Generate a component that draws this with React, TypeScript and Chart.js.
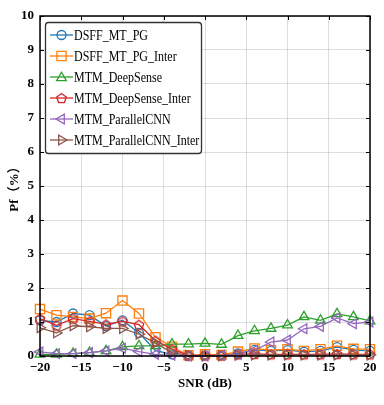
import React, { useEffect, useRef } from 'react';
import { Chart, registerables } from 'chart.js';

Chart.register(...registerables);

// ---- data ----
const snr = [-20, -18, -16, -14, -12, -10, -8, -6, -4, -2, 0, 2, 4, 6, 8, 10, 12, 14, 16, 18, 20];
const seriesNames = [
  'DSFF_MT_PG',
  'DSFF_MT_PG_Inter',
  'MTM_DeepSense',
  'MTM_DeepSense_Inter',
  'MTM_ParallelCNN',
  'MTM_ParallelCNN_Inter',
];
const dsffMtPg = [1.05, 1.0, 1.25, 1.2, 0.88, 1.05, 0.68, 0.16, 0.05, 0.0, 0.02, 0.02, 0.08, 0.18, 0.15, 0.17, 0.12, 0.15, 0.26, 0.18, 0.15];
const dsffMtPgInter = [1.38, 1.2, 1.15, 1.1, 1.26, 1.63, 1.25, 0.55, 0.27, 0.02, 0.05, 0.03, 0.13, 0.22, 0.17, 0.2, 0.15, 0.2, 0.3, 0.21, 0.2];
const mtmDeepSense = [0.05, 0.05, 0.07, 0.1, 0.15, 0.27, 0.3, 0.3, 0.35, 0.35, 0.37, 0.34, 0.6, 0.74, 0.81, 0.91, 1.15, 1.05, 1.24, 1.15, 1.03];
const mtmDeepSenseInter = [1.1, 0.9, 1.1, 1.02, 0.93, 1.02, 0.92, 0.45, 0.2, 0.02, 0.02, 0.02, 0.05, 0.06, 0.05, 0.05, 0.05, 0.05, 0.06, 0.05, 0.05];
const mtmParallelCnn = [0.12, 0.07, 0.07, 0.1, 0.15, 0.23, 0.13, 0.05, 0.02, 0.0, 0.0, 0.02, 0.05, 0.17, 0.41, 0.47, 0.8, 0.87, 1.12, 0.95, 1.0];
const mtmParallelCnnInter = [0.83, 0.68, 0.89, 0.86, 0.81, 0.81, 0.64, 0.38, 0.1, 0.02, 0.0, 0.01, 0.02, 0.03, 0.03, 0.03, 0.03, 0.03, 0.03, 0.03, 0.03];
const seriesValues = [dsffMtPg, dsffMtPgInter, mtmDeepSense, mtmDeepSenseInter, mtmParallelCnn, mtmParallelCnnInter];
const colors = ['#1f77b4', '#ff7f0e', '#2ca02c', '#d62728', '#9467bd', '#8c564b'];
const markerKinds = ['circle', 'square', 'triUp', 'pentagon', 'triLeft', 'triRight'];
const xLabel = 'SNR (dB)';
const yLabel = 'Pf（%）';

const SERIF = "'Liberation Serif', 'Times New Roman', 'Noto Sans CJK SC', serif";

function pentagonPath(ctx: CanvasRenderingContext2D, x: number, y: number, r: number) {
  ctx.beginPath();
  for (let i = 0; i < 5; i++) {
    const a = -Math.PI / 2 + (i * 2 * Math.PI) / 5;
    const px = x + Math.cos(a) * r;
    const py = y + Math.sin(a) * r;
    if (i === 0) ctx.moveTo(px, py);
    else ctx.lineTo(px, py);
  }
  ctx.closePath();
}

function makePentagon(color: string, r: number) {
  const size = Math.ceil(r * 2 + 4);
  const c = document.createElement('canvas');
  c.width = size;
  c.height = size;
  const ctx = c.getContext('2d')!;
  ctx.strokeStyle = color;
  ctx.lineWidth = 1.3;
  pentagonPath(ctx, size / 2, size / 2 + 0.5, r);
  ctx.stroke();
  return c;
}

function triPath(ctx: CanvasRenderingContext2D, x: number, y: number, r: number, apexDeg: number) {
  ctx.beginPath();
  for (let i = 0; i < 3; i++) {
    const a = (apexDeg * Math.PI) / 180 + (i * 2 * Math.PI) / 3;
    const px = x + Math.cos(a) * r;
    const py = y + Math.sin(a) * r;
    if (i === 0) ctx.moveTo(px, py);
    else ctx.lineTo(px, py);
  }
  ctx.closePath();
}

function drawMarker(ctx: CanvasRenderingContext2D, kind: string, x: number, y: number, color: string) {
  ctx.save();
  ctx.strokeStyle = color;
  ctx.lineWidth = 1.3;
  switch (kind) {
    case 'circle':
      ctx.beginPath();
      ctx.arc(x, y, 4.5, 0, Math.PI * 2);
      break;
    case 'square':
      ctx.beginPath();
      ctx.rect(x - 4.6, y - 4.6, 9.2, 9.2);
      break;
    case 'triUp':
      triPath(ctx, x, y + 0.8, 5.6, -90);
      break;
    case 'triLeft':
      triPath(ctx, x, y, 5.6, 180);
      break;
    case 'triRight':
      triPath(ctx, x, y, 5.6, 0);
      break;
    case 'pentagon':
      pentagonPath(ctx, x, y + 0.5, 5);
      break;
  }
  ctx.stroke();
  ctx.restore();
}

const framePlugin = {
  id: 'matlabFrame',
  afterDatasetsDraw(chart: any) {
    const { ctx, chartArea: a, scales } = chart;
    ctx.save();
    // inward ticks
    ctx.strokeStyle = '#000';
    ctx.lineWidth = 1;
    const tl = 4;
    for (const t of scales.x.ticks) {
      const px = Math.round(scales.x.getPixelForValue(t.value)) + 0.5;
      ctx.beginPath();
      ctx.moveTo(px, a.bottom);
      ctx.lineTo(px, a.bottom - tl);
      ctx.moveTo(px, a.top);
      ctx.lineTo(px, a.top + tl);
      ctx.stroke();
    }
    for (const t of scales.y.ticks) {
      const py = Math.round(scales.y.getPixelForValue(t.value)) + 0.5;
      ctx.beginPath();
      ctx.moveTo(a.left, py);
      ctx.lineTo(a.left + tl, py);
      ctx.moveTo(a.right, py);
      ctx.lineTo(a.right - tl, py);
      ctx.stroke();
    }
    // frame
    ctx.lineWidth = 1.5;
    ctx.strokeRect(a.left, a.top, a.right - a.left, a.bottom - a.top);

    // legend
    const bx = 45.5, by = 22.5, bw = 156, bh = 131;
    ctx.beginPath();
    const r = 3;
    ctx.moveTo(bx + r, by);
    ctx.arcTo(bx + bw, by, bx + bw, by + bh, r);
    ctx.arcTo(bx + bw, by + bh, bx, by + bh, r);
    ctx.arcTo(bx, by + bh, bx, by, r);
    ctx.arcTo(bx, by, bx + bw, by, r);
    ctx.closePath();
    ctx.fillStyle = '#fff';
    ctx.fill();
    ctx.strokeStyle = '#333';
    ctx.lineWidth = 1.3;
    ctx.stroke();

    chart.data.datasets.forEach((ds: any, i: number) => {
      const y = 35 + i * 21;
      ctx.strokeStyle = ds.borderColor;
      ctx.lineWidth = 1.3;
      ctx.beginPath();
      ctx.moveTo(50, y);
      ctx.lineTo(73, y);
      ctx.stroke();
      drawMarker(ctx, ds.markerKind, 61.5, y, ds.borderColor);
      ctx.save();
      ctx.translate(74, y);
      ctx.scale(0.8, 1);
      ctx.fillStyle = '#000';
      ctx.font = `15px ${SERIF}`;
      ctx.textBaseline = 'middle';
      ctx.textAlign = 'left';
      ctx.fillText(ds.label, 0, 1);
      ctx.restore();
    });
    ctx.restore();
  },
};

export default function App() {
  const ref = useRef<HTMLCanvasElement | null>(null);
  useEffect(() => {
    if (!ref.current) return;
    const datasets = seriesNames.map((name, i) => {
      const kind = markerKinds[i];
      let pointStyle: any = 'circle';
      let rotation = 0;
      let radius = 4.5;
      if (kind === 'square') { pointStyle = 'rect'; radius = 6.5; }
      if (kind === 'triUp') { pointStyle = 'triangle'; radius = 5.6; }
      if (kind === 'triLeft') { pointStyle = 'triangle'; rotation = -90; radius = 5.6; }
      if (kind === 'triRight') { pointStyle = 'triangle'; rotation = 90; radius = 5.6; }
      if (kind === 'pentagon') { pointStyle = makePentagon(colors[i], 5); radius = 5; }
      return {
        label: name,
        markerKind: kind,
        data: snr.map((x, j) => ({ x, y: seriesValues[i][j] })),
        borderColor: colors[i],
        backgroundColor: 'rgba(0,0,0,0)',
        borderWidth: 1.3,
        pointStyle,
        pointRotation: rotation,
        pointRadius: radius,
        pointBorderWidth: 1.3,
        pointBorderColor: colors[i],
        pointBackgroundColor: 'rgba(0,0,0,0)',
        tension: 0,
        fill: false,
        clip: false as any,
        order: seriesNames.length - i,
      };
    });
    const chart = new Chart(ref.current, {
      type: 'line',
      data: { datasets: datasets as any },
      plugins: [framePlugin as any],
      options: {
        animation: false,
        responsive: false,
        maintainAspectRatio: false,
        layout: { padding: { top: 16, right: 14, left: 0, bottom: 0 } },
        plugins: { legend: { display: false }, tooltip: { enabled: false } },
        scales: {
          x: {
            type: 'linear',
            min: -20,
            max: 20,
            afterFit: (s: any) => { s.height = 49; },
            ticks: {
              stepSize: 5,
              color: '#000',
              padding: 4,
              maxRotation: 0,
              font: { family: SERIF, size: 13, weight: 'bold' },
              callback: (v: any) => String(v).replace('-', '\u2212'),
            },
            grid: { color: 'rgba(0,0,0,0.13)', drawTicks: false },
            border: { display: false },
            title: {
              display: true,
              text: xLabel,
              color: '#000',
              font: { family: SERIF, size: 13, weight: 'bold' },
              padding: { top: 14, bottom: 14 },
            },
          },
          y: {
            type: 'linear',
            min: 0,
            max: 10,
            afterFit: (s: any) => { s.width = 40; },
            ticks: {
              stepSize: 1,
              color: '#000',
              padding: 6,
              font: { family: SERIF, size: 13, weight: 'bold' },
            },
            grid: { color: 'rgba(0,0,0,0.13)', drawTicks: false },
            border: { display: false },
            title: {
              display: true,
              text: yLabel,
              color: '#000',
              font: { family: SERIF, size: 13, weight: 'bold' },
              padding: { top: 7, bottom: 7 },
            },
          },
        },
      } as any,
    });
    return () => chart.destroy();
  }, []);
  return (
    <div style={{ position: 'absolute', left: 0, top: 0, width: 384, height: 405, background: '#fff' }}>
      <canvas ref={ref} width={384} height={405} style={{ width: 384, height: 405, display: 'block' }} />
    </div>
  );
}
